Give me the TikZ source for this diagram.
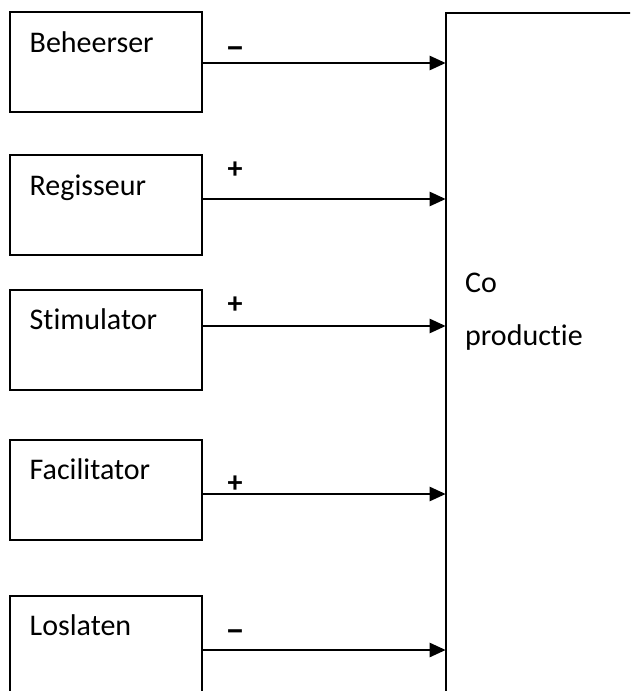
\documentclass[tikz,border=0pt]{standalone}
\usepackage{fontspec}
\usepackage{graphicx}
\setmainfont[Ligatures={NoCommon,NoContextual}]{Carlito}
\usetikzlibrary{arrows.meta}
\begin{document}
\begin{tikzpicture}[x=1pt,y=-1pt,
  box/.style={draw=black,line width=2.2pt,minimum width=192pt,minimum height=100pt,
    inner sep=0pt,outer sep=0pt,anchor=north west},
  lbl/.style={inner sep=0pt,anchor=base west,font=\fontsize{30}{36}\selectfont},
  sign/.style={inner sep=0pt,font=\fontsize{30}{36}\selectfont\bfseries},
  arr/.style={line width=2.4pt,-{Triangle[length=16pt,width=14pt]}}]
\useasboundingbox (0,0) rectangle (630,691);
\clip (0,0) rectangle (630,691);

% co-production block, running off the right and bottom edges
\node[draw=black,line width=2.2pt,inner sep=0pt,outer sep=0pt,anchor=north west,
  minimum width=200pt,minimum height=700pt] (cp) at (445.7,12.7) {};
\node[lbl] (co1) at (465,292) {Co};
\node[lbl] (co2) at (465,345) {productie};

% role boxes
\node[box] (b1) at (10,12) {};
\node[box] (b2) at (10,155) {};
\node[box] (b3) at (10,290) {};
\node[box] (b4) at (10,440) {};
\node[box,minimum height=110pt] (b5) at (10,596) {};

\node[lbl] (t1) at (29.5,52) {Beheerser};
\node[lbl] (t2) at (29.5,195) {Regisseur};
\node[lbl] (t3) at (29.5,329) {Stimulator};
\node[lbl] (t4) at (29.5,479) {Facilitator};
\node[lbl] (t5) at (29.5,635) {Loslaten};

% influence arrows
\draw[arr] (b1.east |- 0,63) -- (cp.west |- 0,63);
\draw[arr] (b2.east |- 0,199) -- (cp.west |- 0,199);
\draw[arr] (b3.east |- 0,326) -- (cp.west |- 0,326);
\draw[arr] (b4.east |- 0,494) -- (cp.west |- 0,494);
\draw[arr] (b5.east |- 0,650) -- (cp.west |- 0,650);

% signs
\node[sign] (s1) at (235,52.5) {\scalebox{1.3}[1.2]{–}};
\node[sign] (s2) at (235,170) {+};
\node[sign] (s3) at (235,305) {+};
\node[sign] (s4) at (235,484) {+};
\node[sign] (s5) at (235,636) {\scalebox{1.3}[1.2]{–}};
\end{tikzpicture}
\end{document}
